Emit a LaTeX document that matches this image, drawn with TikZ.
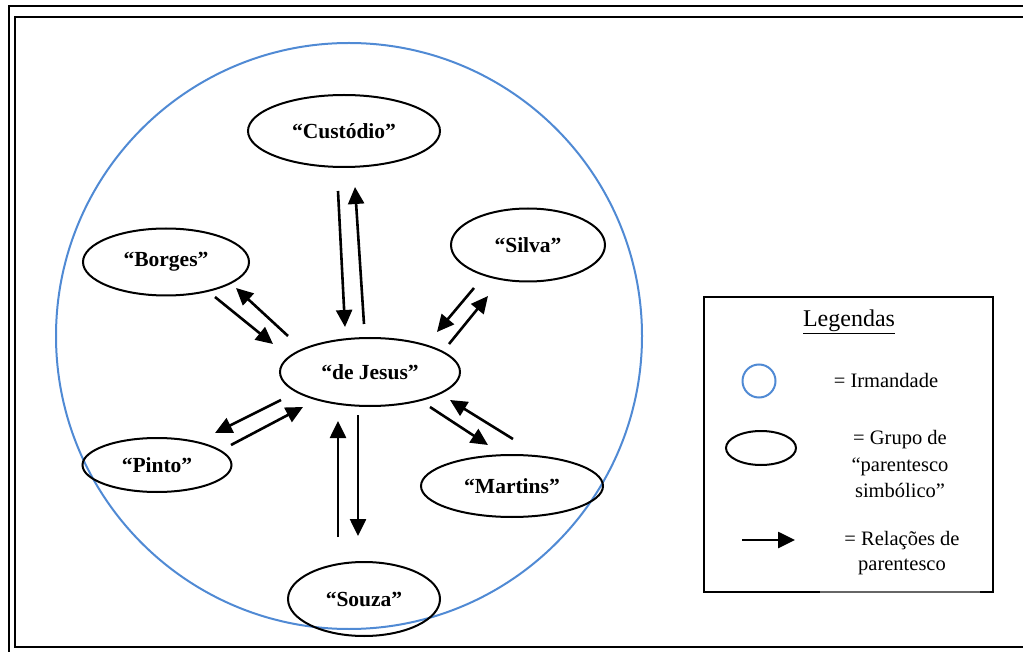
\documentclass[tikz,border=0pt]{standalone}
\usepackage{fontspec}
\setmainfont{Liberation Serif}
\usetikzlibrary{shapes.geometric,arrows.meta}
\definecolor{irmblue}{RGB}{80,138,212}
\begin{document}
\begin{tikzpicture}[x=1pt,y=-1pt,
  grp/.style={ellipse,draw,line width=2pt,inner sep=0pt,font=\fontsize{21.5}{24}\selectfont\bfseries},
  rel/.style={line width=2.6pt,-{Triangle[length=17pt,width=16pt]}},
  framel/.style={line width=2.4pt},
  legtxt/.style={font=\fontsize{20.5}{26.5}\selectfont,align=center}]
\useasboundingbox (0,0) rectangle (1023,652);
% page frame
\draw[framel] (9,690) -- (9,6) -- (1050,6);
\draw[framel] (1050,17) -- (15,17) -- (15,647) -- (1050,647);
% irmandade
\node[circle,draw=irmblue,line width=2pt,minimum size=586pt,inner sep=0pt] (irm) at (349,336) {};
% groups
\node[grp,minimum width=192pt,minimum height=72pt] (cus) at (344,131) {“Custódio”};
\node[grp,minimum width=154pt,minimum height=73pt] (sil) at (528,245) {“Silva”};
\node[grp,minimum width=166pt,minimum height=67pt] (bor) at (166,262) {“Borges”};
\node[grp,minimum width=180pt,minimum height=68pt] (jes) at (370,372) {“de Jesus”};
\node[grp,minimum width=149pt,minimum height=54pt] (pin) at (157,465) {“Pinto”};
\node[grp,minimum width=182pt,minimum height=62pt] (mar) at (512,486) {“Martins”};
\node[grp,minimum width=152pt,minimum height=74pt] (sou) at (364,599) {“Souza”};
% arrow end points
\coordinate (cuA) at (338,191); \coordinate (cuB) at (345,327);
\coordinate (cuC) at (364,324); \coordinate (cuD) at (355,187);
\coordinate (boA) at (215,297); \coordinate (boB) at (273,344);
\coordinate (boC) at (288,336); \coordinate (boD) at (236,288);
\coordinate (siA) at (474,288); \coordinate (siB) at (437,332);
\coordinate (siC) at (449,344); \coordinate (siD) at (488,296);
\coordinate (piA) at (281,400); \coordinate (piB) at (215,433);
\coordinate (piC) at (231,445); \coordinate (piD) at (303,407);
\coordinate (soA) at (338,537); \coordinate (soB) at (338,421);
\coordinate (soC) at (358,415); \coordinate (soD) at (358,536);
\coordinate (maA) at (430,407); \coordinate (maB) at (488,445);
\coordinate (maC) at (513,439); \coordinate (maD) at (450,400);
\draw[rel] (cuA) -- (cuB);
\draw[rel] (cuC) -- (cuD);
\draw[rel] (boA) -- (boB);
\draw[rel] (boC) -- (boD);
\draw[rel] (siA) -- (siB);
\draw[rel] (siC) -- (siD);
\draw[rel] (piA) -- (piB);
\draw[rel] (piC) -- (piD);
\draw[rel] (soA) -- (soB);
\draw[rel] (soC) -- (soD);
\draw[rel] (maA) -- (maB);
\draw[rel] (maC) -- (maD);
% legend
\draw[framel] (820,592) -- (704,592) -- (704,297) -- (993,297) -- (993,592) -- (980,592);
\draw[line width=1.2pt,black!60] (820,592) -- (980,592);
\node[font=\fontsize{24}{28}\selectfont] (legt) at (849,322) {\underline{Legendas}};
\node[circle,draw=irmblue,line width=2pt,minimum size=33pt,inner sep=0pt] (lgc) at (759,381) {};
\node[legtxt] (lgct) at (886,380) {= Irmandade};
\node[ellipse,draw,line width=2pt,minimum width=70pt,minimum height=34pt,inner sep=0pt] (lge) at (761,448) {};
\node[legtxt] (lget) at (900,464) {= Grupo de\\“parentesco\\simbólico”};
\coordinate (lgA) at (742,540); \coordinate (lgB) at (795,540);
\draw[rel] (lgA) -- (lgB);
\node[legtxt,font=\fontsize{20.5}{25.5}\selectfont] (lgat) at (902,553) {= Relações de\\parentesco};
\end{tikzpicture}
\end{document}
